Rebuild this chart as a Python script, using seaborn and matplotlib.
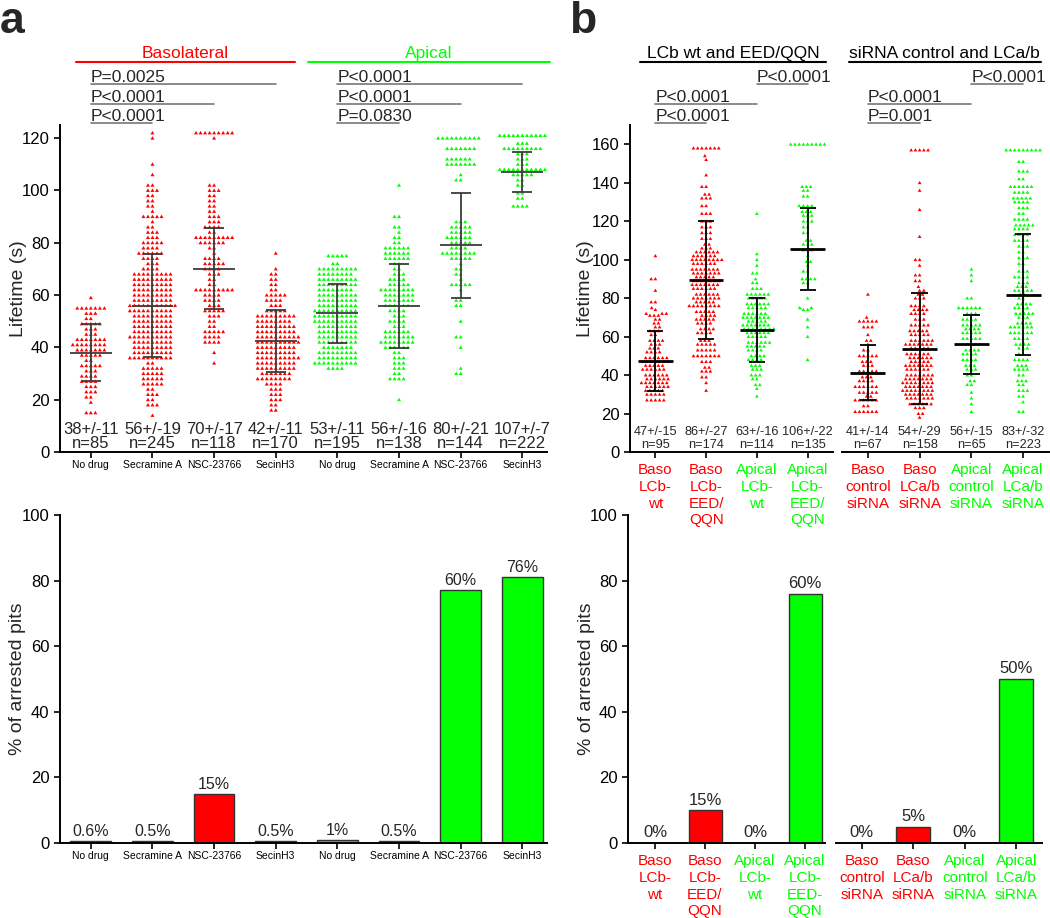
import numpy as np
import pandas as pd
import matplotlib
matplotlib.use("Agg")
import matplotlib.pyplot as plt
import seaborn as sns
from matplotlib.path import Path
from matplotlib.transforms import blended_transform_factory as btf

# ---------------- data ----------------
a_ticks = ["No drug", "Secramine A", "NSC-23766", "SecinH3",
           "No drug", "Secramine A", "NSC-23766", "SecinH3"]
a_side = ["baso", "baso", "baso", "baso", "apical", "apical", "apical", "apical"]

a1_vals = [59, 55, 53, 51, 49, 47, 45, 43, 41, 39, 37, 35, 33, 31, 29, 27, 25, 23, 21, 19, 15]
a1_cnts = [1, 7, 3, 2, 5, 3, 3, 7, 8, 7, 5, 2, 5, 3, 4, 4, 3, 3, 2, 1, 3]
a2_vals = [122, 120, 110, 106, 102, 100, 98, 96, 94, 92, 90, 88, 86, 84, 82, 80, 78, 76, 74, 72,
           70, 68, 66, 64, 62, 60, 58, 56, 54, 52, 50, 48, 46, 44, 42, 40, 38, 36, 34, 32,
           30, 28, 26, 24, 22, 20, 18, 14]
a2_cnts = [1, 1, 1, 1, 2, 3, 2, 2, 2, 1, 5, 1, 2, 3, 3, 5, 4, 6, 4, 3,
           4, 9, 9, 9, 9, 9, 9, 11, 10, 9, 9, 9, 9, 10, 9, 9, 9, 10, 2, 5,
           5, 5, 5, 2, 3, 2, 3, 1]
a3_vals = [122, 120, 102, 100, 98, 96, 94, 92, 90, 88, 86, 84, 82, 80, 78, 76, 74, 72, 70, 68,
           66, 64, 62, 60, 58, 56, 54, 52, 50, 48, 46, 44, 42, 38, 34]
a3_cnts = [9, 1, 2, 3, 2, 2, 2, 2, 3, 3, 4, 2, 9, 6, 2, 1, 4, 5, 4, 3,
           2, 2, 9, 4, 4, 3, 5, 3, 2, 2, 5, 4, 4, 1, 1]
a4_vals = [76, 70, 68, 66, 64, 62, 60, 58, 56, 54, 52, 50, 48, 46, 44, 42, 40, 38, 36, 34,
           32, 30, 28, 26, 24, 22, 20, 18, 16]
a4_cnts = [1, 1, 2, 2, 2, 2, 5, 4, 3, 5, 9, 8, 9, 9, 10, 10, 9, 9, 10, 9,
           9, 7, 8, 4, 3, 3, 3, 2, 2]
a5_vals = [75, 72, 70, 68, 66, 64, 62, 60, 58, 56, 54, 52, 50, 48, 46, 44, 42, 40, 38, 36, 34, 32]
a5_cnts = [5, 2, 9, 8, 9, 9, 8, 9, 9, 9, 10, 10, 10, 9, 9, 9, 9, 7, 9, 9, 10, 4]
a6_vals = [102, 90, 86, 84, 82, 80, 78, 76, 74, 72, 70, 68, 66, 64, 62, 60, 58, 56, 54, 52,
           50, 48, 46, 44, 42, 40, 38, 36, 34, 32, 30, 28, 20]
a6_cnts = [1, 2, 2, 1, 2, 2, 6, 6, 6, 2, 2, 3, 4, 5, 8, 7, 7, 6, 4, 3,
           4, 3, 6, 7, 8, 6, 2, 3, 3, 3, 2, 4, 1]
a7_vals = [120, 116, 112, 110, 106, 104, 88, 86, 84, 82, 80, 78, 76, 74, 72, 70, 68, 66, 64, 62,
           58, 56, 50, 44, 40, 32, 30]
a7_cnts = [10, 7, 6, 7, 1, 2, 3, 5, 5, 6, 5, 4, 8, 5, 1, 2, 2, 1, 5, 1,
           2, 2, 1, 2, 1, 1, 2]
a8_vals = [121, 118, 116, 114, 112, 110, 108, 106, 104, 102, 99, 97, 94]
a8_cnts = [11, 3, 9, 3, 3, 3, 11, 5, 2, 2, 2, 2, 4]

a_means = [38, 56, 70, 42.5, 53, 55.7, 79, 107]
a_sds = [11, 19.5, 15.5, 11.8, 11.3, 16, 20, 7.5]
a_mean_txt = ["38+/-11", "56+/-19", "70+/-17", "42+/-11", "53+/-11", "56+/-16", "80+/-21", "107+/-7"]
a_n_txt = ["n=85", "n=245", "n=118", "n=170", "n=195", "n=138", "n=144", "n=222"]

b_ticks_top = ["Baso\nLCb-\nwt", "Baso\nLCb-\nEED/\nQQN", "Apical\nLCb-\nwt", "Apical\nLCb-\nEED/\nQQN",
               "Baso\ncontrol\nsiRNA", "Baso\nLCa/b\nsiRNA", "Apical\ncontrol\nsiRNA", "Apical\nLCa/b\nsiRNA"]
b_ticks_bot = ["Baso\nLCb-\nwt", "Baso\nLCb-\nEED/\nQQN", "Apical\nLCb-\nwt", "Apical\nLCb-\nEED-\nQQN",
               "Baso\ncontrol\nsiRNA", "Baso\nLCa/b\nsiRNA", "Apical\ncontrol\nsiRNA", "Apical\nLCa/b\nsiRNA"]
b_side = ["baso", "baso", "apical", "apical", "baso", "baso", "apical", "apical"]

b1_vals = [102, 90, 84, 78, 75, 74, 72, 71, 69, 67, 65, 63, 61, 58, 56, 54, 52, 49, 47, 45,
           43, 40, 38, 36, 34, 32, 30, 27]
b1_cnts = [1, 2, 1, 2, 1, 1, 3, 3, 2, 2, 2, 3, 2, 4, 3, 3, 4, 6, 7, 5,
           6, 6, 6, 7, 6, 5, 5, 5]
b2_vals = [158, 154, 152, 144, 138, 134, 132, 128, 124, 120, 117, 114, 111, 108, 106, 104, 102, 100, 98, 95,
           93, 91, 89, 87, 85, 82, 80, 78, 76, 73, 71, 69, 67, 64, 62, 58, 56, 53, 50, 47,
           44, 42, 39, 36, 32]
b2_cnts = [7, 1, 1, 1, 2, 2, 3, 2, 3, 3, 3, 3, 3, 2, 3, 6, 6, 8, 6, 7,
           7, 5, 7, 7, 6, 6, 7, 5, 8, 5, 4, 5, 4, 4, 4, 3, 5, 5, 7, 3,
           2, 3, 2, 1, 1]
b3_vals = [124, 103, 100, 97, 93, 90, 88, 85, 82, 80, 77, 75, 72, 70, 68, 66, 64, 62, 60, 57,
           55, 53, 50, 48, 45, 43, 40, 38, 35, 33, 29]
b3_cnts = [1, 1, 1, 1, 2, 1, 2, 3, 6, 5, 6, 5, 6, 7, 5, 7, 8, 6, 5, 6,
           5, 4, 4, 4, 3, 3, 3, 2, 2, 1, 1]
b4_vals = [160, 138, 136, 133, 128, 125, 123, 120, 117, 114, 110, 108, 105, 102, 99, 97, 94, 90, 88, 80,
           75, 74, 69, 65, 60, 48]
b4_cnts = [9, 3, 2, 2, 4, 3, 3, 3, 2, 2, 2, 3, 3, 1, 2, 1, 2, 4, 2, 1,
           2, 2, 1, 1, 1, 1]
b5_vals = [82, 70, 68, 65, 61, 58, 56, 53, 50, 47, 45, 42, 39, 37, 34, 31, 29, 27, 24, 21]
b5_cnts = [1, 1, 5, 3, 1, 2, 1, 2, 5, 3, 3, 5, 3, 4, 6, 5, 2, 6, 2, 6]
b6_vals = [157, 140, 136, 126, 112, 100, 97, 92, 89, 86, 84, 82, 80, 76, 74, 72, 69, 66, 63, 61,
           58, 56, 54, 51, 49, 47, 45, 43, 40, 38, 36, 34, 32, 30, 28, 25, 23, 20, 18]
b6_cnts = [5, 1, 1, 1, 1, 2, 1, 2, 2, 1, 2, 2, 3, 4, 4, 4, 3, 5, 5, 5,
           6, 7, 5, 6, 6, 5, 7, 6, 7, 7, 8, 7, 8, 7, 7, 6, 3, 2, 1]
b7_vals = [95, 92, 89, 80, 75, 72, 69, 66, 64, 62, 59, 56, 53, 51, 48, 45, 43, 40, 37, 35,
           31, 28, 25, 21]
b7_cnts = [1, 1, 1, 2, 6, 3, 4, 5, 4, 5, 5, 3, 4, 4, 4, 3, 3, 2, 2, 2,
           1, 1, 1, 1]
b8_vals = [157, 151, 146, 142, 138, 135, 132, 130, 127, 124, 121, 118, 116, 113, 110, 107, 104, 101, 98, 94,
           91, 88, 86, 84, 82, 80, 77, 75, 72, 70, 67, 65, 62, 59, 56, 54, 51, 48, 45, 43,
           40, 37, 35, 32, 29, 26, 21]
b8_cnts = [9, 2, 3, 2, 6, 4, 5, 4, 3, 2, 4, 5, 4, 4, 4, 3, 2, 3, 2, 3,
           4, 3, 3, 5, 2, 2, 4, 4, 5, 3, 4, 6, 6, 4, 4, 3, 2, 4, 3, 4,
           2, 3, 2, 3, 2, 1, 2]

b_means = [47.4, 89.5, 63.5, 105.6, 41.3, 53.8, 56, 81.7]
b_sds = [15.5, 30.8, 16.8, 21.5, 14.3, 29, 15.2, 31.4]
b_mean_txt = ["47+/-15", "86+/-27", "63+/-16", "106+/-22", "41+/-14", "54+/-29", "56+/-15", "83+/-32"]
b_n_txt = ["n=95", "n=174", "n=114", "n=135", "n=67", "n=158", "n=65", "n=223"]

a_bar = [0.6, 0.5, 15, 0.5, 1, 0.5, 77, 81]
a_bar_txt = ["0.6%", "0.5%", "15%", "0.5%", "1%", "0.5%", "60%", "76%"]
b_bar = [0, 10, 0, 76, 0, 5, 0, 50]
b_bar_txt = ["0%", "15%", "0%", "60%", "0%", "5%", "0%", "50%"]

a_pvals_baso = ["P=0.0025", "P<0.0001", "P<0.0001"]
a_pvals_apical = ["P<0.0001", "P<0.0001", "P=0.0830"]
b_pvals_left = ["P<0.0001", "P<0.0001", "P<0.0001"]
b_pvals_right = ["P<0.0001", "P<0.0001", "P=0.001"]

# ---------------- style ----------------
sns.set_style("ticks")
plt.rcParams["font.family"] = ["Liberation Sans", "DejaVu Sans"]
RED, GREEN = "#FF0000", "#00FF00"
SIDE_COL = {"baso": RED, "apical": GREEN}

TRI = Path([(0.56, 0.56), (0.0, 0.5), (-0.52, -0.4), (0.52, -0.4), (0.0, 0.5)],
           [Path.MOVETO, Path.MOVETO, Path.LINETO, Path.LINETO, Path.CLOSEPOLY])

W, H = 1050, 918
fig = plt.figure(figsize=(W / 100, H / 100), dpi=100)
TICKFS = 12


def rect(l, t, r, b):
    return [l / W, 1 - b / H, (r - l) / W, (b - t) / H]


def style_axis(ax, keep_left=True):
    sns.despine(ax=ax, left=not keep_left)
    for s in ax.spines.values():
        s.set_linewidth(1.4)
        s.set_color("black")
    ax.tick_params(axis="both", direction="out", width=1.2, length=4, labelsize=TICKFS, colors="black")
    if not keep_left:
        ax.tick_params(axis="y", left=False, labelleft=False)
    ax.set_xlabel("")
    ax.set_ylabel("")
    ax.patch.set_alpha(0)


def swarm(ax, vals_list, cnts_list, sides, size):
    frames = []
    order = []
    for i, (v, c) in enumerate(zip(vals_list, cnts_list)):
        key = f"g{i}"
        order.append(key)
        frames.append(pd.DataFrame({"g": key, "v": np.repeat(np.asarray(v, float), c)}))
    df = pd.concat(frames, ignore_index=True)
    pal = {k: SIDE_COL[s] for k, s in zip(order, sides)}
    sns.swarmplot(data=df, x="g", y="v", hue="g", order=order, hue_order=order, palette=pal,
                  legend=False, size=size, marker=TRI, linewidth=0, warn_thresh=1.0, ax=ax)


def mean_sd(ax, means, sds, color, lw_mean, lw_bar):
    for i, (m, s) in enumerate(zip(means, sds)):
        ax.hlines(m, i - 0.34, i + 0.34, color=color, lw=lw_mean, zorder=5)
        ax.vlines(i, m - s, m + s, color=color, lw=lw_bar, zorder=5)
        ax.hlines([m - s, m + s], i - 0.16, i + 0.16, color=color, lw=lw_bar, zorder=5)


def stats_text(ax, mtxt, ntxt, fs, ls):
    tr = btf(ax.transData, ax.transAxes)
    for i, (m, n) in enumerate(zip(mtxt, ntxt)):
        ax.text(i, 0.004, m + "\n" + n, transform=tr, ha="center", va="bottom",
                fontsize=fs, linespacing=ls, zorder=6)


def bracket(ax, x0, x1, yline, text, color="#777777"):
    tr = btf(ax.transData, ax.transAxes)
    ax.plot([x0, x1], [yline, yline], color=color, lw=1.2, transform=tr, clip_on=False)
    ax.text(x0, yline + 0.006, text, transform=tr, ha="left", va="baseline", fontsize=12.5, clip_on=False)


def header(ax, x0, x1, yline, text, color, tcolor):
    tr = btf(ax.transData, ax.transAxes)
    ax.plot([x0, x1], [yline, yline], color=color, lw=1.5, transform=tr, clip_on=False)
    ax.text((x0 + x1) / 2, yline + 0.012, text, transform=tr, ha="center", va="baseline",
            fontsize=12.5, color=tcolor, clip_on=False)


LINES = [1.1254, 1.0642, 1.0061]

# ---------------- panel a, top ----------------
ax = fig.add_axes(rect(60, 125, 547, 452))
ax.set_zorder(3)
swarm(ax, [a1_vals, a2_vals, a3_vals, a4_vals, a5_vals, a6_vals, a7_vals, a8_vals],
      [a1_cnts, a2_cnts, a3_cnts, a4_cnts, a5_cnts, a6_cnts, a7_cnts, a8_cnts], a_side, 3.1)
mean_sd(ax, a_means, a_sds, "#3c3c3c", 1.3, 1.3)
stats_text(ax, a_mean_txt, a_n_txt, 12, 0.92)
ax.set_xlim(-0.5, 7.4)
ax.set_ylim(0, 125)
ax.set_yticks(range(0, 121, 20))
ax.set_xticks(range(8))
ax.set_xticklabels(a_ticks, fontsize=7.5)
style_axis(ax)
ax.tick_params(axis="x", labelsize=7.5, pad=1.5)
ax.set_ylabel("Lifetime (s)", fontsize=14)
ax.yaxis.set_label_coords(-0.068, 0.5)
header(ax, -0.243, 3.32, 1.193, "Basolateral", RED, RED)
header(ax, 3.52, 7.45, 1.193, "Apical", GREEN, GREEN)
bracket(ax, 0, 3, LINES[0], a_pvals_baso[0])
bracket(ax, 0, 2, LINES[1], a_pvals_baso[1])
bracket(ax, 0, 1, LINES[2], a_pvals_baso[2])
bracket(ax, 4, 7, LINES[0], a_pvals_apical[0])
bracket(ax, 4, 6, LINES[1], a_pvals_apical[1])
bracket(ax, 4, 5, LINES[2], a_pvals_apical[2])

# ---------------- panel b, top ----------------
b_vals_all = [b1_vals, b2_vals, b3_vals, b4_vals, b5_vals, b6_vals, b7_vals, b8_vals]
b_cnts_all = [b1_cnts, b2_cnts, b3_cnts, b4_cnts, b5_cnts, b6_cnts, b7_cnts, b8_cnts]
for k, (r, keep_left) in enumerate([((630, 125, 833, 452), True), ((842, 125, 1049, 452), False)]):
    ax = fig.add_axes(rect(*r))
    ax.set_zorder(3)
    sl = slice(4 * k, 4 * k + 4)
    swarm(ax, b_vals_all[sl], b_cnts_all[sl], b_side[sl], 2.9)
    mean_sd(ax, b_means[sl], b_sds[sl], "black", 2.0, 1.3)
    stats_text(ax, b_mean_txt[sl], b_n_txt[sl], 9.2, 1.12)
    ax.set_xlim(-0.5, 3.5)
    ax.set_ylim(0, 170)
    ax.set_yticks(range(0, 161, 20))
    ax.set_xticks(range(4))
    ax.set_xticklabels(b_ticks_top[sl], fontsize=11)
    style_axis(ax, keep_left)
    ax.tick_params(axis="x", labelsize=11, pad=4)
    for t, s in zip(ax.get_xticklabels(), b_side[sl]):
        t.set_color(SIDE_COL[s])
        t.set_linespacing(1.25)
    if keep_left:
        ax.set_ylabel("Lifetime (s)", fontsize=14)
        ax.yaxis.set_label_coords(-0.178, 0.5)
        header(ax, -0.30, 3.36, 1.193, "LCb wt and EED/QQN", "black", "black")
        bracket(ax, 2, 3, LINES[0], b_pvals_left[0])
        bracket(ax, 0, 2, LINES[1], b_pvals_left[1])
        bracket(ax, 0, 1, LINES[2], b_pvals_left[2])
    else:
        header(ax, -0.37, 3.34, 1.193, "siRNA control and LCa/b", "black", "black")
        bracket(ax, 2, 3, LINES[0], b_pvals_right[0])
        bracket(ax, 0, 2, LINES[1], b_pvals_right[1])
        bracket(ax, 0, 1, LINES[2], b_pvals_right[2])

# ---------------- panel a, bottom ----------------
ax = fig.add_axes(rect(60, 515, 547, 843))
keys = [f"c{i}" for i in range(8)]
bdf = pd.DataFrame({"k": keys, "v": a_bar})
sns.barplot(data=bdf, x="k", y="v", hue="k", order=keys, hue_order=keys,
            palette={k: SIDE_COL[s] for k, s in zip(keys, a_side)}, legend=False, saturation=1,
            width=0.66, edgecolor="#333333", linewidth=1.0, ax=ax)
for i, (v, t) in enumerate(zip(a_bar, a_bar_txt)):
    ax.text(i, v + 0.6, t, ha="center", va="bottom", fontsize=11.5)
ax.set_xlim(-0.5, 7.4)
ax.set_ylim(0, 100)
ax.set_yticks(range(0, 101, 20))
ax.set_xticks(range(8))
ax.set_xticklabels(a_ticks, fontsize=7.5)
style_axis(ax)
ax.tick_params(axis="x", labelsize=7.5, pad=1.5)
ax.set_ylabel("% of arrested pits", fontsize=14)
ax.yaxis.set_label_coords(-0.07, 0.5)

# ---------------- panel b, bottom ----------------
for k, (r, xl, keep_left) in enumerate([((628, 515, 825, 843), (-0.54, 3.4), True),
                                       ((836, 515, 1042, 843), (-0.5, 3.5), False)]):
    ax = fig.add_axes(rect(*r))
    sl = slice(4 * k, 4 * k + 4)
    keys = [f"d{i}" for i in range(4)]
    bdf = pd.DataFrame({"k": keys, "v": b_bar[sl]})
    sns.barplot(data=bdf, x="k", y="v", hue="k", order=keys, hue_order=keys,
                palette={kk: SIDE_COL[s] for kk, s in zip(keys, b_side[sl])}, legend=False, saturation=1,
                width=0.66, edgecolor="#333333", linewidth=1.0, ax=ax)
    for i, (v, t) in enumerate(zip(b_bar[sl], b_bar_txt[sl])):
        ax.text(i, v + 0.8, t, ha="center", va="bottom", fontsize=12)
    ax.set_xlim(*xl)
    ax.set_ylim(0, 100)
    ax.set_yticks(range(0, 101, 20))
    ax.set_xticks(range(4))
    ax.set_xticklabels(b_ticks_bot[sl], fontsize=11)
    style_axis(ax, keep_left)
    ax.tick_params(axis="x", labelsize=11, pad=4)
    for t, s in zip(ax.get_xticklabels(), b_side[sl]):
        t.set_color(SIDE_COL[s])
        t.set_linespacing(1.25)
    if keep_left:
        ax.set_ylabel("% of arrested pits", fontsize=14)
        ax.yaxis.set_label_coords(-0.165, 0.5)

# panel letters
fig.text(0.0, 1 - 33 / H, "a", fontsize=32, fontweight="bold", va="baseline", ha="left")
fig.text(569 / W, 1 - 33 / H, "b", fontsize=32, fontweight="bold", va="baseline", ha="left")

fig.savefig("out.png", dpi=100)
